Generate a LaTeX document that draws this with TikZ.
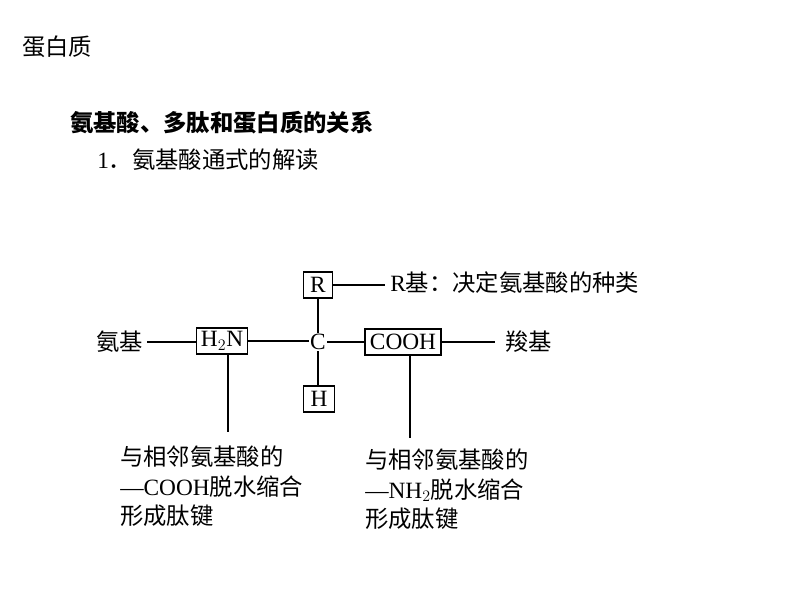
\documentclass[tikz,border=0pt]{standalone}
\usepackage{fontspec}
\setmainfont{Liberation Serif}
\newfontfamily\cjk{Noto Sans CJK SC}
\begin{document}
\begin{tikzpicture}[x=0.75pt,y=-0.75pt,
  txt/.style={inner sep=0pt,font=\fontsize{17.5}{19}\selectfont},
  box/.style={draw,thick,inner sep=2pt,font=\fontsize{17.5}{19}\selectfont,minimum height=19.5pt},
  ln/.style={thick}]
\useasboundingbox (0,0) rectangle (800,600);
\node[txt,anchor=west] (t1) at (22,47) {\cjk 蛋白质};
\node[txt,anchor=west] (t2) at (70,123) {\cjk\bfseries 氨基酸、多肽和蛋白质的关系};
\node[txt,anchor=west] (t3) at (97,160) {1{\cjk ．氨基酸通式的解读}};
\node[box,minimum width=22pt] (R) at (318,285) {R};
\node[box,minimum width=38pt] (N) at (222,341) {H$_2$N};
\node[txt,inner sep=1pt] (C) at (318,342) {C};
\node[box,minimum width=57pt] (CO) at (403,342) {COOH};
\node[box,minimum width=23pt] (H) at (319,399) {H};
\node[txt,anchor=west] (Rt) at (390,283) {R{\cjk 基：决定氨基酸的种类}};
\node[txt,anchor=east] (am) at (143,342) {\cjk 氨基};
\node[txt,anchor=west] (ca) at (505,342) {\cjk 羧基};
\coordinate (rl) at (385,285);
\coordinate (al) at (147,342);
\coordinate (cl) at (495,342);
\coordinate (nd) at (228,432);
\coordinate (cd) at (410,438);
\draw[ln] (R.east) -- (rl);
\draw[ln] (al) -- (al -| N.west);
\draw[ln] (N.east) -- (N.east -| C.west);
\draw[ln] (C.east) -- (C.east -| CO.west);
\draw[ln] (CO.east) -- (CO.east -| cl);
\draw[ln] (R.south) -- (C.north);
\draw[ln] (C.south) -- (C.south |- H.north);
\draw[ln] (N.south -| nd) -- (nd);
\draw[ln] (CO.south -| cd) -- (cd);
\node[txt,anchor=north west,align=left] (lt) at (120,446) {{\cjk 与相邻氨基酸的}\\[3pt]—COOH{\cjk 脱水缩合}\\[3pt]{\cjk 形成肽键}};
\node[txt,anchor=north west,align=left] (rt) at (365,449) {{\cjk 与相邻氨基酸的}\\[3pt]—NH$_2${\cjk 脱水缩合}\\[3pt]{\cjk 形成肽键}};
\end{tikzpicture}
\end{document}
